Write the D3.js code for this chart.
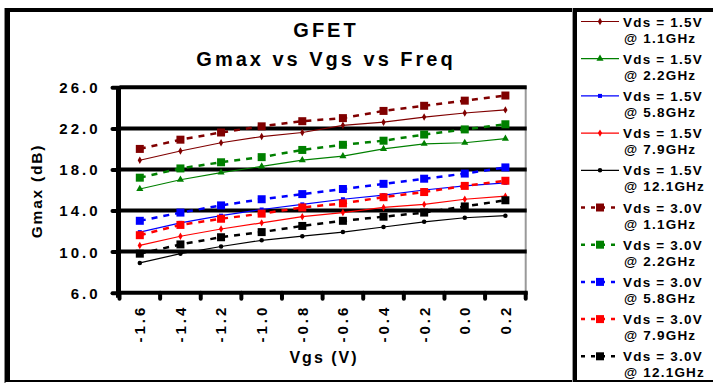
<!DOCTYPE html>
<html>
<head>
<meta charset="utf-8">
<script src="https://cdn.jsdelivr.net/npm/d3@7/dist/d3.min.js"></script>
<style>
  body { margin: 0; background: #fff; }
  svg { display: block; }
  text { font-family: Arial, "Liberation Sans", sans-serif; font-weight: bold; fill: #000; }
</style>
</head>
<body>
<div id="chart"></div>
<script>
// Vgs categories on the x axis
const vgs = ['-1.6', '-1.4', '-1.2', '-1.0', '-0.8', '-0.6', '-0.4', '-0.2', '0.0', '0.2']
const yTicks = [6, 10, 14, 18, 22, 26]

// Gmax (dB)
const vds15_1_1 = [18.9, 19.8, 20.6, 21.2, 21.6, 22.3, 22.6, 23.1, 23.5, 23.8]
const vds15_2_2 = [16.1, 17.0, 17.7, 18.3, 18.9, 19.3, 20.0, 20.5, 20.6, 21.0]
const vds15_5_8 = [11.9, 12.8, 13.5, 14.1, 14.6, 15.1, 15.5, 16.0, 16.4, 16.7]
const vds15_7_9 = [10.6, 11.5, 12.2, 12.8, 13.4, 13.8, 14.3, 14.6, 15.1, 15.4]
const vds15_12_1 = [8.9, 9.8, 10.5, 11.1, 11.5, 11.9, 12.4, 12.9, 13.3, 13.5]
const vds30_1_1 = [20.0, 20.9, 21.6, 22.2, 22.7, 23.0, 23.7, 24.2, 24.7, 25.2]
const vds30_2_2 = [17.2, 18.1, 18.7, 19.2, 19.9, 20.4, 20.8, 21.4, 21.9, 22.4]
const vds30_5_8 = [13.0, 13.8, 14.5, 15.1, 15.6, 16.1, 16.6, 17.1, 17.6, 18.2]
const vds30_7_9 = [11.6, 12.6, 13.2, 13.7, 14.3, 14.7, 15.3, 15.8, 16.4, 16.9]
const vds30_12_1 = [9.8, 10.7, 11.4, 11.9, 12.5, 13.0, 13.4, 13.8, 14.4, 15.0]

const series = [
    { vds: '1.5V', freq: '1.1GHz', values: vds15_1_1, color: '#800000', dashed: false, shape: d3.symbolDiamond },
    { vds: '1.5V', freq: '2.2GHz', values: vds15_2_2, color: '#008000', dashed: false, shape: d3.symbolTriangle },
    { vds: '1.5V', freq: '5.8GHz', values: vds15_5_8, color: '#0000ff', dashed: false, shape: d3.symbolSquare },
    { vds: '1.5V', freq: '7.9GHz', values: vds15_7_9, color: '#ff0000', dashed: false, shape: d3.symbolDiamond },
    { vds: '1.5V', freq: '12.1GHz', values: vds15_12_1, color: '#000000', dashed: false, shape: d3.symbolCircle },
    { vds: '3.0V', freq: '1.1GHz', values: vds30_1_1, color: '#800000', dashed: true, shape: d3.symbolSquare },
    { vds: '3.0V', freq: '2.2GHz', values: vds30_2_2, color: '#008000', dashed: true, shape: d3.symbolSquare },
    { vds: '3.0V', freq: '5.8GHz', values: vds30_5_8, color: '#0000ff', dashed: true, shape: d3.symbolSquare },
    { vds: '3.0V', freq: '7.9GHz', values: vds30_7_9, color: '#ff0000', dashed: true, shape: d3.symbolSquare },
    { vds: '3.0V', freq: '12.1GHz', values: vds30_12_1, color: '#000000', dashed: true, shape: d3.symbolSquare }
]

const W = 713, H = 384
const plot = { left: 119.5, right: 525.7, top: 87.3, bottom: 292.7 }

const svg = d3.select('#chart').append('svg')
    .attr('width', W)
    .attr('height', H)

const xScale = d3.scaleBand().domain(vgs).range([plot.left, plot.right])
const yScale = d3.scaleLinear().domain([6, 26]).range([plot.bottom, plot.top])
const xMid = d => xScale(d) + xScale.bandwidth() / 2

// outer frame
svg.append('rect').attr('x', 4).attr('y', 8).attr('width', 2).attr('height', 375).attr('fill', '#888')
svg.append('rect').attr('x', 5).attr('y', 8).attr('width', 5).attr('height', 374).attr('fill', '#000')
svg.append('rect').attr('x', 5).attr('y', 8).attr('width', W - 5).attr('height', 4).attr('fill', '#000')
svg.append('rect').attr('x', 5).attr('y', 380).attr('width', W - 5).attr('height', 2).attr('fill', '#000')
// legend box left border
svg.append('rect').attr('x', 572).attr('y', 8).attr('width', 1).attr('height', 374).attr('fill', '#999')
svg.append('rect').attr('x', 573).attr('y', 8).attr('width', 4).attr('height', 374).attr('fill', '#000')

// titles
svg.append('text')
    .attr('x', 326).attr('y', 37)
    .attr('text-anchor', 'middle')
    .style('font-size', '20px')
    .style('letter-spacing', '3px')
    .text('GFET')
svg.append('text')
    .attr('x', 326).attr('y', 66)
    .attr('text-anchor', 'middle')
    .style('font-size', '20px')
    .style('letter-spacing', '3px')
    .text('Gmax vs Vgs vs Freq')

// plot area border (grey)
svg.append('rect')
    .attr('x', plot.left).attr('y', plot.top)
    .attr('width', plot.right - plot.left).attr('height', plot.bottom - plot.top)
    .attr('fill', '#fff')
    .attr('stroke', '#999')
    .attr('stroke-width', 2)

// grid lines
svg.append('g')
    .selectAll('line')
    .data(yTicks.filter(d => d > 6))
    .enter().append('line')
    .attr('x1', plot.left)
    .attr('x2', plot.right + 1)
    .attr('y1', d => yScale(d))
    .attr('y2', d => yScale(d))
    .attr('stroke', '#000')
    .attr('stroke-width', 4)

// y axis
const yAxis = d3.axisLeft(yScale)
    .tickValues(yTicks)
    .tickFormat(d3.format('.1f'))
    .tickSize(7)
    .tickPadding(15)

const gy = svg.append('g')
    .attr('transform', `translate(${plot.left},0)`)
    .call(yAxis)
gy.select('.domain').remove()
gy.selectAll('.tick line').attr('stroke', '#000').attr('stroke-width', 4).attr('stroke-linecap', 'round')
gy.selectAll('.tick text')
    .style('font-size', '15px')
    .style('font-family', 'Arial, "Liberation Sans", sans-serif')
    .style('font-weight', 'bold')
    .style('letter-spacing', '3px')
    .attr('dx', '3px')
    .attr('dy', '0.36em')

svg.append('line')
    .attr('x1', plot.left - 1).attr('x2', plot.left - 1)
    .attr('y1', plot.top - 1).attr('y2', plot.bottom + 5)
    .attr('stroke', '#000').attr('stroke-width', 5)

// x axis
svg.append('line')
    .attr('x1', plot.left - 3).attr('x2', plot.right + 2)
    .attr('y1', plot.bottom).attr('y2', plot.bottom)
    .attr('stroke', '#000').attr('stroke-width', 4)

const tickPos = vgs.map(d => xScale(d)).concat([plot.right])
svg.append('g')
    .selectAll('line')
    .data(tickPos)
    .enter().append('line')
    .attr('x1', d => d).attr('x2', d => d)
    .attr('y1', plot.bottom).attr('y2', plot.bottom + 6)
    .attr('stroke', '#000')
    .attr('stroke-width', 4)
    .attr('stroke-linecap', 'round')

const xAxis = d3.axisBottom(xScale).tickSize(0)
const gx = svg.append('g')
    .attr('transform', `translate(0,${plot.bottom})`)
    .call(xAxis)
gx.select('.domain').remove()
gx.selectAll('.tick text')
    .style('font-size', '15px')
    .style('font-family', 'Arial, "Liberation Sans", sans-serif')
    .style('font-weight', 'bold')
    .style('letter-spacing', '3px')
    .attr('text-anchor', 'end')
    .attr('transform', 'rotate(-90)')
    .attr('x', -12)
    .attr('y', 0)
    .attr('dy', '0.36em')

svg.append('text')
    .attr('x', 324).attr('y', 363)
    .attr('text-anchor', 'middle')
    .style('font-size', '16px')
    .style('letter-spacing', '2px')
    .text('Vgs (V)')

svg.append('text')
    .attr('transform', 'translate(42,191) rotate(-90)')
    .attr('text-anchor', 'middle')
    .style('font-size', '15.5px')
    .style('letter-spacing', '1.8px')
    .text('Gmax (dB)')

// series
const line = d3.line()
    .x((d, i) => xMid(vgs[i]))
    .y(d => yScale(d))

const markerSize = s => s.dashed ? 64 : (s.shape === d3.symbolTriangle ? 22 : 16)

series.forEach(s => {
    svg.append('path')
        .datum(s.values)
        .attr('fill', 'none')
        .attr('stroke', s.color)
        .attr('stroke-width', s.dashed ? 2.5 : 1.2)
        .attr('stroke-dasharray', s.dashed ? '6,6' : null)
        .attr('d', line)

    svg.append('g')
        .selectAll('path')
        .data(s.values)
        .enter().append('path')
        .attr('transform', (d, i) => `translate(${xMid(vgs[i])},${yScale(d)})`)
        .attr('d', d3.symbol().type(s.shape).size(markerSize(s)))
        .attr('fill', s.color)
})

// legend
const legend = svg.selectAll('.legend')
    .data(series)
    .enter().append('g')
    .attr('class', 'legend')
    .attr('transform', (d, i) => `translate(0,${21.5 + i * 37.2})`)

legend.append('line')
    .attr('x1', 581).attr('x2', 619)
    .attr('y1', 0).attr('y2', 0)
    .attr('stroke', d => d.color)
    .attr('stroke-width', d => d.dashed ? 2.5 : 1.2)
    .attr('stroke-dasharray', d => d.dashed ? '4,6' : null)

legend.append('path')
    .attr('transform', 'translate(600,0)')
    .attr('d', d => d3.symbol().type(d.shape).size(markerSize(d))())
    .attr('fill', d => d.color)

legend.append('text')
    .attr('x', 623).attr('y', 5)
    .style('font-size', '13.5px')
    .style('letter-spacing', '1.2px')
    .text(d => `Vds = ${d.vds}`)

legend.append('text')
    .attr('x', 624).attr('y', 21)
    .style('font-size', '13.5px')
    .style('letter-spacing', '1.2px')
    .text(d => `@ ${d.freq}`)
</script>
</body>
</html>
